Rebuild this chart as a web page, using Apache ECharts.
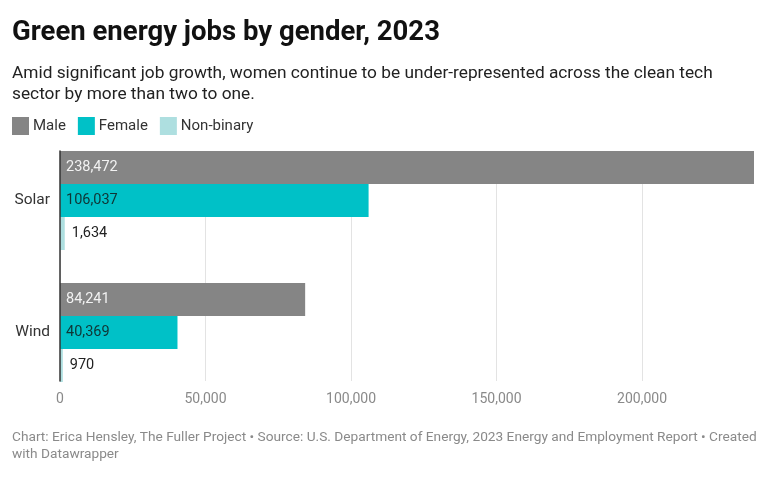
<!DOCTYPE html>
<html>
<head>
<meta charset="utf-8">
<script src="https://cdn.jsdelivr.net/npm/echarts@6/dist/echarts.min.js"></script>
<style>
  html, body { margin: 0; padding: 0; background: #fff; }
  #chart { width: 768px; height: 480px; }
</style>
</head>
<body>
<div id="chart"></div>
<script>
// data
const categories = ['Solar', 'Wind'];
const male = [238472, 84241];
const female = [106037, 40369];
const nonBinary = [1634, 970];

const FONT = 'Roboto';
const fmt = v => Number(v).toLocaleString('en-US');
const axisMax = Math.max(...male);

const chart = echarts.init(document.getElementById('chart'));

const option = {
  backgroundColor: '#fff',
  animation: false,
  title: [
    {
      text: 'Green energy jobs by gender, 2023',
      left: 7, top: 14,
      textStyle: { fontFamily: FONT, fontSize: 27.5, fontWeight: 'bold', color: '#111' }
    },
    {
      text: 'Amid significant job growth, women continue to be under-represented across the clean tech\nsector by more than two to one.',
      left: 7, top: 58,
      textStyle: { fontFamily: FONT, fontSize: 17.3, fontWeight: 'normal', color: '#222', lineHeight: 21 }
    },
    {
      text: 'Chart: Erica Hensley, The Fuller Project \u2022 Source: U.S. Department of Energy, 2023 Energy and Employment Report \u2022 Created\nwith Datawrapper',
      left: 7, top: 424,
      textStyle: { fontFamily: FONT, fontSize: 13.7, fontWeight: 'normal', color: '#8a8a8a', lineHeight: 17 }
    }
  ],
  legend: {
    left: 7, top: 112,
    icon: 'rect',
    itemWidth: 17, itemHeight: 18,
    itemGap: 12,
    textStyle: { fontFamily: FONT, fontSize: 15, color: '#333', padding: [0, 0, 0, -1] },
    data: ['Male', 'Female', 'Non-binary']
  },
  grid: [
    // grid 0: ticks, gridlines and zero line (spans the bars only)
    { left: 60, right: 14, top: 151, height: 230 },
    // grid 1: the bars with category bands
    { left: 60, right: 14, top: 134.5, height: 264 }
  ],
  xAxis: [
    {
      gridIndex: 0, type: 'value', min: 0, max: axisMax, interval: 50000,
      axisLine: { show: false }, axisTick: { show: false },
      splitLine: { show: true, showMaxLine: false, lineStyle: { color: '#e3e3e3', width: 1 } },
      axisLabel: {
        showMaxLabel: false, margin: 11,
        fontFamily: FONT, fontSize: 14, color: '#8a8a8a',
        formatter: fmt
      }
    },
    {
      gridIndex: 1, type: 'value', min: 0, max: axisMax, show: false
    }
  ],
  yAxis: [
    {
      gridIndex: 0, type: 'value', min: 0, max: 1, z: 5,
      axisLine: { show: true, lineStyle: { color: '#333', width: 1.5 } },
      axisTick: { show: false }, axisLabel: { show: false }, splitLine: { show: false }
    },
    {
      gridIndex: 1, type: 'category', data: categories, inverse: true,
      axisLine: { show: false }, axisTick: { show: false },
      axisLabel: { margin: 10, fontFamily: FONT, fontSize: 15.5, color: '#333' }
    }
  ],
  series: [
    {
      name: 'Male', type: 'bar', xAxisIndex: 1, yAxisIndex: 1,
      data: male, barGap: 0, barCategoryGap: '25%',
      itemStyle: { color: '#858585' },
      label: { show: true, position: 'insideLeft', distance: 6, formatter: p => fmt(p.value),
        fontFamily: FONT, fontSize: 14.5, color: '#f2f2f2' }
    },
    {
      name: 'Female', type: 'bar', xAxisIndex: 1, yAxisIndex: 1,
      data: female, barGap: 0, barCategoryGap: '25%',
      itemStyle: { color: '#00c1c7' },
      label: { show: true, position: 'insideLeft', distance: 6, formatter: p => fmt(p.value),
        fontFamily: FONT, fontSize: 14.5, color: '#0f3535' }
    },
    {
      name: 'Non-binary', type: 'bar', xAxisIndex: 1, yAxisIndex: 1,
      data: nonBinary, barGap: 0, barCategoryGap: '25%',
      itemStyle: { color: '#aedfe0' },
      label: { show: true, position: 'right', distance: 7, formatter: p => fmt(p.value),
        fontFamily: FONT, fontSize: 14.5, color: '#222' }
    }
  ]
};

chart.setOption(option);
</script>
</body>
</html>
